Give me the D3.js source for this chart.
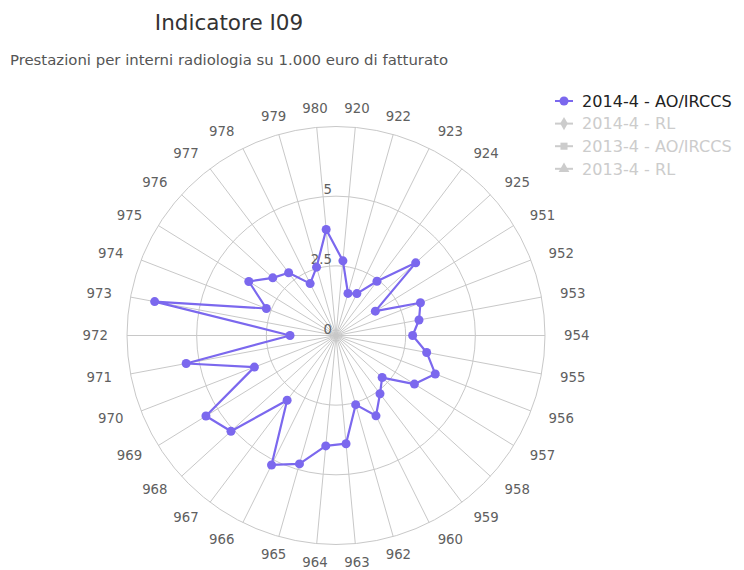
<!DOCTYPE html>
<html><head><meta charset="utf-8">
<script src="https://cdn.jsdelivr.net/npm/d3@7"></script>
<style>
html,body{margin:0;padding:0;background:#fff;}
svg{display:block;font-family:"DejaVu Sans","Lucida Grande",sans-serif;}
</style></head>
<body><svg id="chart" width="744" height="570"></svg>
<script>
const categories = ["920","922","923","924","925","951","952","953","954","955","956","957","958","959","960","962","963","964","965","966","967","968","969","970","971","972","973","974","975","976","977","978","979","980"];
const values2014AO = [2.69,1.57,1.68,2.44,3.87,1.66,3.25,3.03,2.75,3.31,3.82,3.31,2.24,2.62,3.22,2.58,3.90,3.98,4.79,5.19,2.91,5.10,5.49,3.14,5.47,1.65,6.62,2.68,3.68,3.07,2.82,2.08,2.55,3.82];
const yTicks = [0, 2.5, 5, 7.5];
const yTickLabels = ["0", "2.5", "5"];
const legendItems = [
  {name: "2014-4 - AO/IRCCS", symbol: "circle", visible: true},
  {name: "2014-4 - RL", symbol: "diamond", visible: false},
  {name: "2013-4 - AO/IRCCS", symbol: "square", visible: false},
  {name: "2013-4 - RL", symbol: "triangle", visible: false}
];
const titleText = "Indicatore I09";
const subtitleText = "Prestazioni per interni radiologia su 1.000 euro di fatturato";

const svg = d3.select("#chart");
const cx = 336, cy = 335.5, R = 209;
const color = "#7b68ee";

const ang = d3.scaleBand().domain(categories).range([0, 2 * Math.PI]).paddingInner(0).paddingOuter(0);
const angleOf = c => ang(c) + ang.bandwidth() / 2;
const r = d3.scaleLinear().domain([0, 7.5]).range([0, R]);

const g = svg.append("g").attr("transform", `translate(${cx},${cy})`);

// rings
g.selectAll("circle.ring").data(yTicks.slice(1)).join("circle")
  .attr("class", "ring").attr("r", d => r(d))
  .attr("fill", "none").attr("stroke", "#c8c8c8").attr("stroke-width", 1);

// spokes
g.selectAll("line.spoke").data(categories).join("line")
  .attr("class", "spoke")
  .attr("x1", 0).attr("y1", 0)
  .attr("x2", d => R * Math.sin(angleOf(d)))
  .attr("y2", d => -R * Math.cos(angleOf(d)))
  .attr("stroke", "#c8c8c8").attr("stroke-width", 1);

// category labels
g.selectAll("text.cat").data(categories).join("text")
  .attr("class", "cat")
  .each(function(d) {
    const a = angleOf(d);
    const deg = a * 180 / Math.PI;
    const lr = R + 19;
    let anchor = "middle";
    if (deg > 20 && deg < 160) anchor = "start";
    else if (deg > 200 && deg < 340) anchor = "end";
    d3.select(this)
      .attr("x", lr * Math.sin(a))
      .attr("y", -lr * Math.cos(a))
      .attr("dy", "0.35em")
      .attr("text-anchor", anchor);
  })
  .attr("font-size", 13.3).attr("fill", "#606060")
  .text(d => d);

// y labels
g.selectAll("text.ylab").data(yTickLabels).join("text")
  .attr("class", "ylab")
  .attr("x", -4).attr("y", d => -r(+d) - 2)
  .attr("text-anchor", "end")
  .attr("font-size", 13.3).attr("fill", "#606060")
  .text(d => d);

// series
const pts = categories.map((c, i) => ({c, v: values2014AO[i]}));
const line = d3.lineRadial().angle(d => angleOf(d.c)).radius(d => r(d.v)).curve(d3.curveLinearClosed);
g.append("path").datum(pts).attr("d", line)
  .attr("fill", "none").attr("stroke", color).attr("stroke-width", 2.2).attr("stroke-linejoin", "round");
g.selectAll("circle.pt").data(pts).join("circle")
  .attr("class", "pt")
  .attr("cx", d => r(d.v) * Math.sin(angleOf(d.c)))
  .attr("cy", d => -r(d.v) * Math.cos(angleOf(d.c)))
  .attr("r", 4.5).attr("fill", color);

// title
svg.append("text").attr("x", 229).attr("y", 30).attr("text-anchor", "middle")
  .attr("font-size", 21.5).attr("fill", "#333").text(titleText);
svg.append("text").attr("x", 229).attr("y", 65).attr("text-anchor", "middle")
  .attr("font-size", 14.9).attr("fill", "#555").text(subtitleText);

// legend
const lg = svg.append("g").attr("transform", "translate(555,101)");
const sym = {circle: d3.symbolCircle, diamond: d3.symbolDiamond, square: d3.symbolSquare, triangle: d3.symbolTriangle};
legendItems.forEach((it, i) => {
  const y = i * 22.6;
  const c = it.visible ? color : "#cccccc";
  const item = lg.append("g").attr("transform", `translate(0,${y})`);
  item.append("line").attr("x1", 0).attr("x2", 18).attr("y1", 0).attr("y2", 0)
    .attr("stroke", c).attr("stroke-width", 2);
  item.append("path").attr("transform", "translate(9,0)")
    .attr("d", d3.symbol().type(sym[it.symbol]).size(it.symbol === "circle" ? 64 : 50)())
    .attr("fill", c);
  item.append("text").attr("x", 27).attr("y", 0).attr("dy", "0.36em")
    .attr("font-size", 16.1).attr("fill", it.visible ? "#222" : "#cccccc")
    .text(it.name);
});
</script></body></html>
